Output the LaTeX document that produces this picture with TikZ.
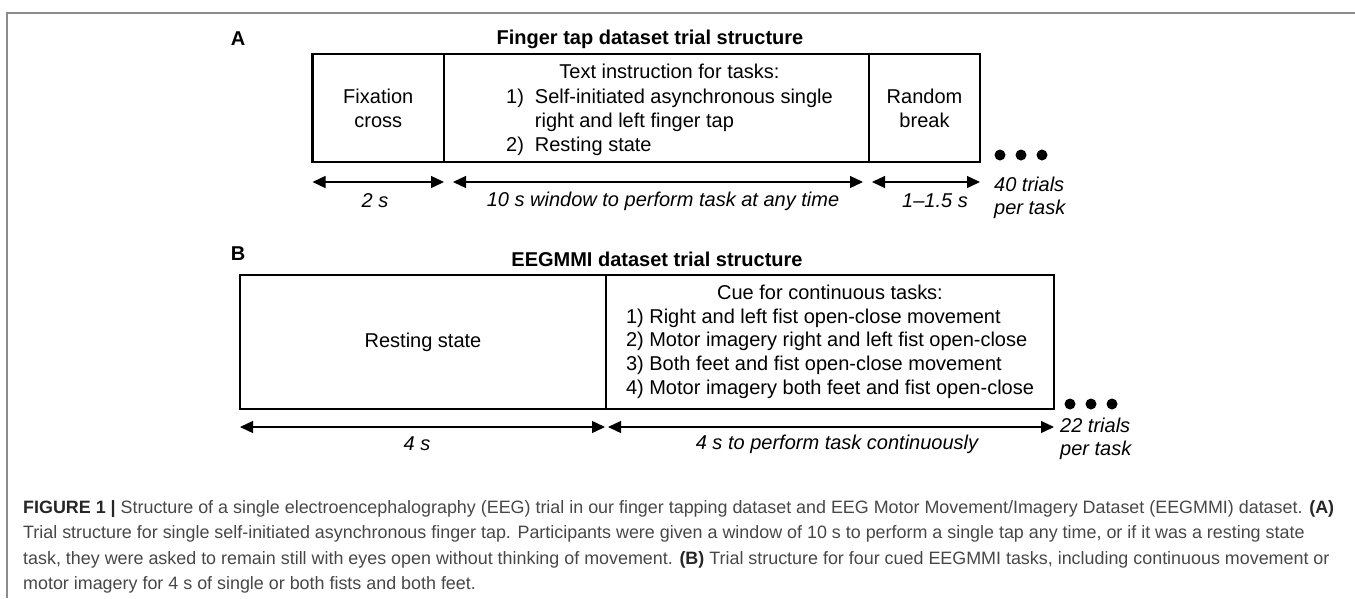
\documentclass[tikz,border=0pt]{standalone}
\usepackage{fontspec}
\setmainfont{Liberation Sans}
\usepackage{tikz}
\usetikzlibrary{arrows.meta,chains,positioning}

\begin{document}
\begin{tikzpicture}[
x=1pt, y=-1pt,
node distance=0pt,
font=\fontsize{20}{24.3}\selectfont,
    X/.style = {rectangle, draw, line width=2.2pt,% boxes of trial A (chain)
                minimum height=108pt,
                outer sep=0pt, inner sep=0pt, on chain},
    Z/.style = {rectangle, draw, line width=2.2pt,% boxes of trial B (chain)
                minimum height=134pt,
                outer sep=0pt, inner sep=0pt, on chain},
  dur/.style = {{Triangle[length=13pt,width=12pt]}-{Triangle[length=13pt,width=12pt]},
                line width=1.3pt},
  lbl/.style = {font=\fontsize{20}{23}\selectfont\itshape, inner sep=0pt},
  ttl/.style = {font=\fontsize{20}{24}\selectfont\bfseries, inner sep=0pt},
  captxt/.style = {font=\fontsize{17.9}{25.3}\selectfont, text=black!72,
                align=left, inner sep=0pt},
                        ]
\useasboundingbox (0,0) rectangle (1355,598);
\draw[gray!90, line width=2pt] (7,598) |- (1355,12.7);
% A
\node[ttl] (pA) at (238,39) {A};
\node[ttl] (hA) at (650,39) {Finger tap dataset trial structure};
\begin{scope}[start chain=A going right]
\node[X, minimum width=131.5pt, align=center] at (378.25,108) {Fixation\\cross};
\node[X, minimum width=425pt] {};
\node[X, minimum width=111pt, align=center] {Random\\break};
\end{scope}
\node[inner sep=0pt] (instr) at ([xshift=13pt,yshift=-2.5pt]A-2.center)
  {\begin{tabular}{@{}r@{\hspace{11pt}}l@{}}
   \multicolumn{2}{c}{Text instruction for tasks:}\\
   1) & Self-initiated asynchronous single\\
      & right and left finger tap\\
   2) & Resting state
   \end{tabular}};
\draw[dur] ([yshift=-20pt]A-1.south west) -- ([yshift=-20pt]A-1.south east);
\draw[dur] ([xshift=9pt,yshift=-20pt]A-2.south west) -- ([xshift=-6pt,yshift=-20pt]A-2.south east);
\draw[dur] ([xshift=3pt,yshift=-20pt]A-3.south west) -- ([yshift=-20pt]A-3.south east);
\node[lbl] (dA1) at (375,201) {2 s};
\node[lbl] (dA2) at (663,201) {10 s window to perform task at any time};
\node[lbl] (dA3) at (935,201) {1--1.5 s};
\foreach \i in {0,1,2}% <-- more trials
    \fill (1000+21*\i,155) circle[radius=5.5pt];
\node[lbl, align=left, anchor=west] (nA) at (994,197.5) {40 trials\\per task};
% B
\node[ttl] (pB) at (238,254) {B};
\node[ttl] (hB) at (657,259) {EEGMMI dataset trial structure};
\begin{scope}[start chain=B going right]
\node[Z, minimum width=366pt] at (423,342) {Resting state};
\node[Z, minimum width=448pt, font=\fontsize{20}{23.75}\selectfont]
  {\begin{tabular}{@{}l@{}}
   \multicolumn{1}{c}{Cue for continuous tasks:}\\
   1) Right and left fist open-close movement\\
   2) Motor imagery right and left fist open-close\\
   3) Both feet and fist open-close movement\\
   4) Motor imagery both feet and fist open-close
   \end{tabular}};
\end{scope}
\draw[dur] ([yshift=-18pt]B-1.south west) -- ([xshift=-1pt,yshift=-18pt]B-1.south east);
\draw[dur] ([xshift=2pt,yshift=-18pt]B-2.south west) -- ([yshift=-18pt]B-2.south east);
\node[lbl] (dB1) at (417,444) {4 s};
\node[lbl] (dB2) at (837,444) {4 s to perform task continuously};
\foreach \i in {0,1,2}% <-- more trials
    \fill (1070+21*\i,404) circle[radius=5.5pt];
\node[lbl, align=left, anchor=west] (nB) at (1060,439) {22 trials\\per task};
% caption
\node[captxt, anchor=west] (cap) at (23,547)
  {\textbf{\color{black!85}FIGURE 1 |} Structure of a single electroencephalography (EEG) trial in our finger tapping dataset and EEG Motor Movement/Imagery Dataset (EEGMMI) dataset. \textbf{\color{black!85}(A)}\\
   Trial structure for single self-initiated asynchronous finger tap. Participants were given a window of 10 s to perform a single tap any time, or if it was a resting state\\
   task, they were asked to remain still with eyes open without thinking of movement. \textbf{\color{black!85}(B)} Trial structure for four cued EEGMMI tasks, including continuous movement or\\
   motor imagery for 4 s of single or both fists and both feet.};
\end{tikzpicture}
\end{document}
